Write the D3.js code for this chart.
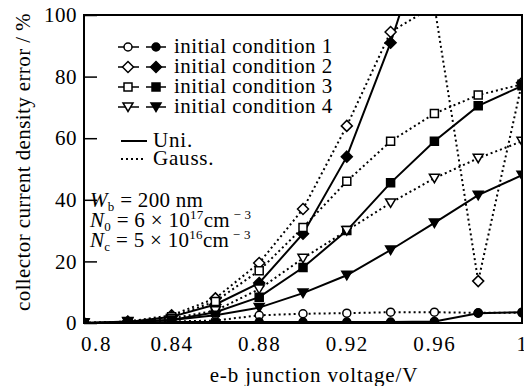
<!DOCTYPE html>
<html>
<head>
<meta charset="utf-8">
<script src="https://cdn.jsdelivr.net/npm/d3@7"></script>
<style>
  body { margin: 0; background: #fff; }
  svg { display: block; }
</style>
</head>
<body>
<svg id="chart" width="524" height="386"></svg>
<script>
// e-b junction voltage (V)
const voltage = [0.80, 0.82, 0.84, 0.86, 0.88, 0.90, 0.92, 0.94, 0.96, 0.98, 1.00];

// collector current density error (%) — solid = Uni., dotted = Gauss.
const uni1   = [0, 0, 0.3, 0.3, 0.3, 0.3, 0.3, 0.3, 0.5, 3.2, 3.5];
const gauss1 = [0, 0, 0.5, 0.8, 2.5, 3, 3.2, 3.5, 3.5, 3.3, 3.3];
const uni2   = [0, 0.3, 2, 6, 13, 29, 54, 91, 135];
const gauss2 = [0, 0.5, 2.5, 8, 19.5, 37, 64, 94.5, 103, 13.6, 78];
const uni3   = [0, 0.2, 1, 3.5, 8.4, 18, 30, 45.5, 59, 70.5, 77];
const gauss3 = [0, 0.3, 2, 7, 17, 31, 46, 59, 68, 74, 77.5];
const uni4   = [0, 0.5, 1, 2.5, 5, 9.7, 15.5, 23.7, 32.5, 41.5, 48];
const gauss4 = [0, 0.3, 1.5, 4, 11, 21, 30, 39, 47, 53.5, 59];

const xTicks = [0.8, 0.84, 0.88, 0.92, 0.96, 1.0];
const xTickLabels = ["0.8", "0.84", "0.88", "0.92", "0.96", "1"];
const yTicks = [0, 20, 40, 60, 80, 100];

const legendLabels = ["initial condition 1", "initial condition 2", "initial condition 3", "initial condition 4"];
const legendShapes = ["circle", "diamond", "square", "triangle"];

const series = [
  { values: gauss2, shape: "diamond", filled: false, dotted: true },
  { values: uni2, shape: "diamond", filled: true, dotted: false },
  { values: gauss3, shape: "square", filled: false, dotted: true },
  { values: uni3, shape: "square", filled: true, dotted: false },
  { values: gauss4, shape: "triangle", filled: false, dotted: true },
  { values: uni4, shape: "triangle", filled: true, dotted: false },
  { values: gauss1, shape: "circle", filled: false, dotted: true },
  { values: uni1, shape: "circle", filled: true, dotted: false }
];

const FONT = "'Liberation Serif', 'Times New Roman', serif";
const svg = d3.select("#chart");
const plotLeft = 84, plotRight = 522, plotTop = 15, plotBottom = 323;

const x = d3.scaleLinear().domain([0.8, 1.0]).range([plotLeft, plotRight]);
const y = d3.scaleLinear().domain([0, 100]).range([plotBottom, plotTop]);

function serif(sel, size, spacing) {
  return sel.style("font-family", FONT)
    .style("font-size", size + "px")
    .style("letter-spacing", (spacing || 0) + "px")
    .attr("fill", "#000");
}

function shapePath(shape) {
  if (shape === "circle") return "M4,0A4,4 0 1,1 -4,0A4,4 0 1,1 4,0Z";
  if (shape === "diamond") return "M0,-5.5L5.5,0L0,5.5L-5.5,0Z";
  if (shape === "square") return "M-4,-4L4,-4L4,4L-4,4Z";
  return "M-5,-4L5,-4L0,4.5Z";
}

svg.append("defs").append("clipPath").attr("id", "plot-clip")
  .append("rect")
  .attr("x", plotLeft).attr("y", plotTop)
  .attr("width", plotRight - plotLeft).attr("height", plotBottom - plotTop);

const plot = svg.append("g").attr("clip-path", "url(#plot-clip)");

const line = d3.line()
  .x((d, i) => x(voltage[i]))
  .y(d => y(d));

series.forEach(s => {
  plot.append("path")
    .attr("d", line(s.values))
    .attr("fill", "none")
    .attr("stroke", "#000")
    .attr("stroke-width", 2)
    .attr("stroke-dasharray", s.dotted ? "2,3" : null);
});

series.forEach(s => {
  plot.append("g").selectAll("path")
    .data(s.values)
    .enter().append("path")
    .attr("d", shapePath(s.shape))
    .attr("transform", (d, i) => `translate(${x(voltage[i])},${y(d)})`)
    .attr("fill", s.filled ? "#000" : "#fff")
    .attr("stroke", "#000")
    .attr("stroke-width", 1.5);
});

// frame
svg.append("rect")
  .attr("x", plotLeft).attr("y", plotTop)
  .attr("width", plotRight - plotLeft).attr("height", plotBottom - plotTop)
  .attr("fill", "none").attr("stroke", "#000").attr("stroke-width", 2);

// y axis
const yAxis = svg.append("g")
  .attr("transform", `translate(${plotLeft},0)`)
  .call(d3.axisLeft(y).tickValues(yTicks).tickSizeInner(-13).tickSizeOuter(0).tickPadding(7));
yAxis.select(".domain").remove();
yAxis.selectAll(".tick line").attr("stroke-width", 1.5);
serif(yAxis.selectAll("text"), 21, 0.5);

// x axis
const xAxis = svg.append("g")
  .attr("transform", `translate(0,${plotBottom})`)
  .call(d3.axisBottom(x).tickValues(xTicks).tickSize(0).tickPadding(13)
    .tickFormat((d, i) => xTickLabels[i]));
xAxis.select(".domain").remove();
serif(xAxis.selectAll("text"), 21, 1.6)
  .attr("dx", (d, i) => i === 0 ? 12 : 0);

// axis titles
serif(svg.append("text"), 21, 0.9)
  .attr("x", 314).attr("y", 382)
  .attr("text-anchor", "middle")
  .text("e-b junction voltage/V");

serif(svg.append("text"), 21, 0.4)
  .attr("transform", "translate(30,162) rotate(-90)")
  .attr("text-anchor", "middle")
  .text("collector current density error / %");

// legend
const legendY = [47, 67, 87, 107];
legendLabels.forEach((label, i) => {
  const g = svg.append("g");
  const ly = legendY[i];
  g.append("line").attr("x1", 118).attr("x2", 139).attr("y1", ly).attr("y2", ly)
    .attr("stroke", "#000").attr("stroke-width", 1.5);
  g.append("line").attr("x1", 146).attr("x2", 166).attr("y1", ly).attr("y2", ly)
    .attr("stroke", "#000").attr("stroke-width", 1.5);
  g.append("path").attr("d", shapePath(legendShapes[i]))
    .attr("transform", `translate(128,${ly})`)
    .attr("fill", "#fff").attr("stroke", "#000").attr("stroke-width", 1.5);
  g.append("path").attr("d", shapePath(legendShapes[i]))
    .attr("transform", `translate(156,${ly})`)
    .attr("fill", "#000").attr("stroke", "#000").attr("stroke-width", 1.5);
  serif(g.append("text"), 21, 0.5).attr("x", 174).attr("y", ly + 6)
    .text(label);
});

svg.append("line").attr("x1", 121).attr("x2", 147).attr("y1", 141).attr("y2", 141)
  .attr("stroke", "#000").attr("stroke-width", 2);
serif(svg.append("text"), 21, 0.8).attr("x", 153).attr("y", 147).text("Uni.");
svg.append("line").attr("x1", 121).attr("x2", 145).attr("y1", 159).attr("y2", 159)
  .attr("stroke", "#000").attr("stroke-width", 2).attr("stroke-dasharray", "2,3");
serif(svg.append("text"), 21, 0.8).attr("x", 153).attr("y", 165).text("Gauss.");

// parameter annotation
function paramLine(yPos, sym, sub, rest, sup, tail) {
  const t = serif(svg.append("text"), 21, 0.3).attr("x", 90).attr("y", yPos);
  t.append("tspan").style("font-style", "italic").text(sym);
  t.append("tspan").style("font-size", "13px").attr("dy", 4).text(sub);
  t.append("tspan").attr("dy", -4).text(rest);
  if (sup) {
    t.append("tspan").style("font-size", "13px").attr("dy", -8).text(sup);
    t.append("tspan").attr("dy", 8).text(tail);
    t.append("tspan").style("font-size", "13px").attr("dy", -8).text(" \u2212 3");
  }
}
paramLine(207, "W", "b", " = 200  nm");
paramLine(227, "N", "0", " = 6 \u00d7 10", "17", "cm");
paramLine(247, "N", "c", " = 5 \u00d7 10", "16", "cm");
</script>
</body>
</html>
